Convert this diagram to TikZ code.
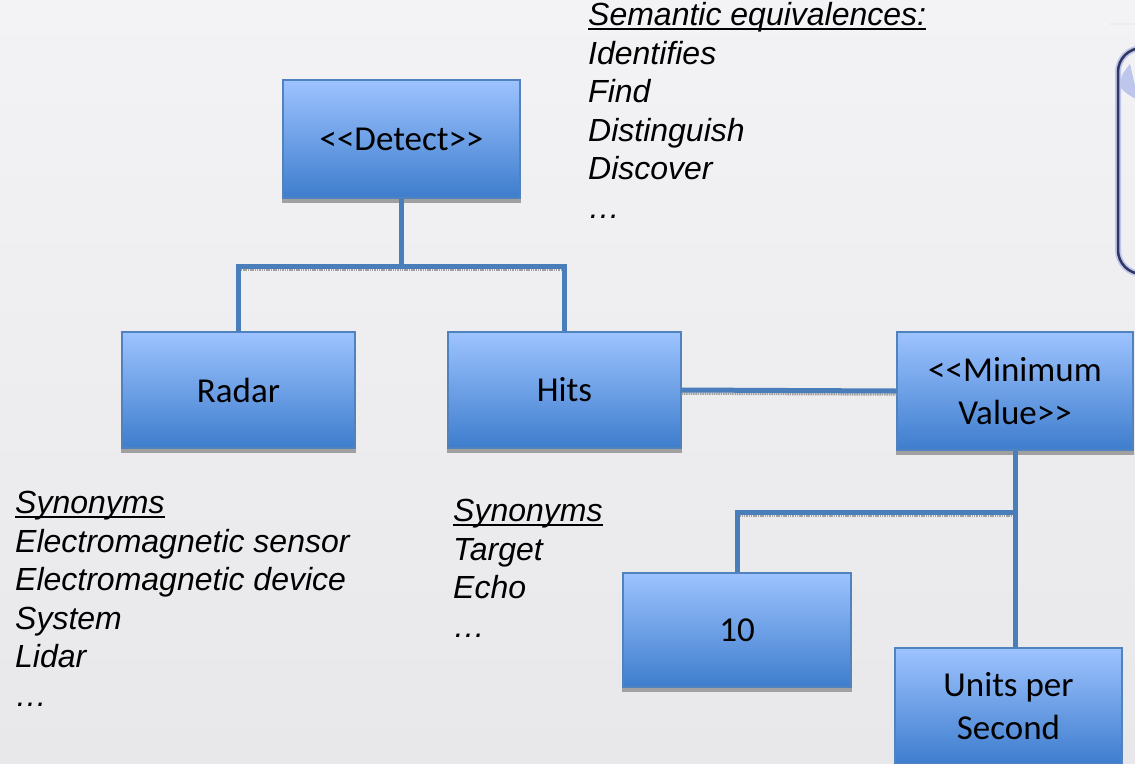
\documentclass[tikz,border=0pt]{standalone}
\usepackage{fontspec}
\setmainfont{Liberation Sans}
\newfontfamily\boxfont{Carlito}
\definecolor{bgtop}{RGB}{243,243,245}
\definecolor{bgbot}{RGB}{232,232,235}
\definecolor{boxtop}{RGB}{157,195,255}
\definecolor{boxbot}{RGB}{62,125,205}
\definecolor{boxline}{RGB}{80,130,190}
\definecolor{connc}{RGB}{74,126,187}
\definecolor{shadowc}{RGB}{160,160,160}
\definecolor{navy}{RGB}{50,55,95}
\definecolor{glowc}{RGB}{190,198,235}
\newcommand\myul[1]{\setbox0\hbox{#1}\rlap{\rule[-4.5pt]{\wd0}{2pt}}\box0}
\tikzset{
  box/.style={rectangle, draw=boxline, line width=1.2pt, top color=boxtop, bottom color=boxbot,
    inner sep=0pt, align=center, text=black, font=\boxfont\fontsize{35}{42.5}\selectfont},
  txt/.style={anchor=base west, inner sep=0pt, align=left, text=black,
    font=\fontsize{32}{38.5}\selectfont\itshape},
  conn/.style={draw=connc, line width=5pt},
  connshadow/.style={draw=shadowc, line width=2.5pt, dash pattern=on 1.5pt off 0.8pt},
  boxshadow/.style={fill=shadowc}
}
\begin{document}
\begin{tikzpicture}[x=1pt,y=-1pt]
\useasboundingbox (0,0) rectangle (1135,763);
\shade[top color=bgtop,bottom color=bgbot] (0,0) rectangle (1135,763);

% partial shape at top right
\draw[white!85!gray, line width=1.5pt] (1110,24) -- (1140,24);
\draw[glowc, line width=6pt, rounded corners=24] (1170,48) -- (1118,48) -- (1118,274) -- (1170,274);
\draw[navy, line width=2.5pt, rounded corners=24] (1170,48) -- (1118,48) -- (1118,274) -- (1170,274);
\fill[glowc] (1121,80) .. controls (1121,75) and (1125,70) .. (1130,64) -- (1136,90) -- (1136,99) .. controls (1130,96) and (1124,92) .. (1121,88) -- cycle;

% boxes
\node[box, minimum width=237pt, minimum height=118pt] (detect) at (401.5,139) {<<Detect>>};
\node[box, minimum width=233pt, minimum height=116pt] (radar) at (238.5,390) {Radar};
\node[box, minimum width=233pt, minimum height=116pt] (hits) at (564.5,390) {Hits};
\node[box, minimum width=236pt, minimum height=118pt] (minval) at (1015,391) {<<Minimum\\Value>>};
\node[box, minimum width=228pt, minimum height=114pt] (ten) at (737,630) {10};
\node[box, minimum width=227pt, minimum height=116pt] (units) at (1008.5,706) {Units per\\Second};

\foreach \n in {detect,radar,hits,minval,ten}
  \fill[boxshadow] ([yshift=-0.6pt]\n.south west) rectangle ([yshift=-4pt]\n.south east);

% connectors
\coordinate (j1) at (401.5,266);
\coordinate (j2) at (1015,512);
\draw[connshadow] ([yshift=-3.5pt]radar.north |- j1) -- ([yshift=-3.5pt]hits.north |- j1);
\draw[connshadow] ([yshift=-3.5pt]hits.east) -- ([yshift=-3.5pt]minval.west);
\draw[connshadow] ([yshift=-3.5pt]ten.north |- j2) -- ([yshift=-3.5pt]j2);
\draw[conn] (detect.south) -- (j1);
\draw[conn] (radar.north) |- (j1) -| (hits.north);
\draw[conn] (hits.east) -- (minval.west);
\draw[conn] (minval.south) -- (j2);
\draw[conn] (j2) -| (ten.north);
\draw[conn] (j2) -- (j2 |- units.north);

% texts (base anchor = baseline of last line)
\node[txt] (sem) at (588,218) {\myul{Semantic equivalences:}\\Identifies\\Find\\Distinguish\\Discover\\\dots};
\node[txt] (syn1) at (15,706) {\myul{Synonyms}\\Electromagnetic sensor\\Electromagnetic device\\System\\Lidar\\\dots};
\node[txt] (syn2) at (453,637) {\myul{Synonyms}\\Target\\Echo\\\dots};
\end{tikzpicture}
\end{document}
